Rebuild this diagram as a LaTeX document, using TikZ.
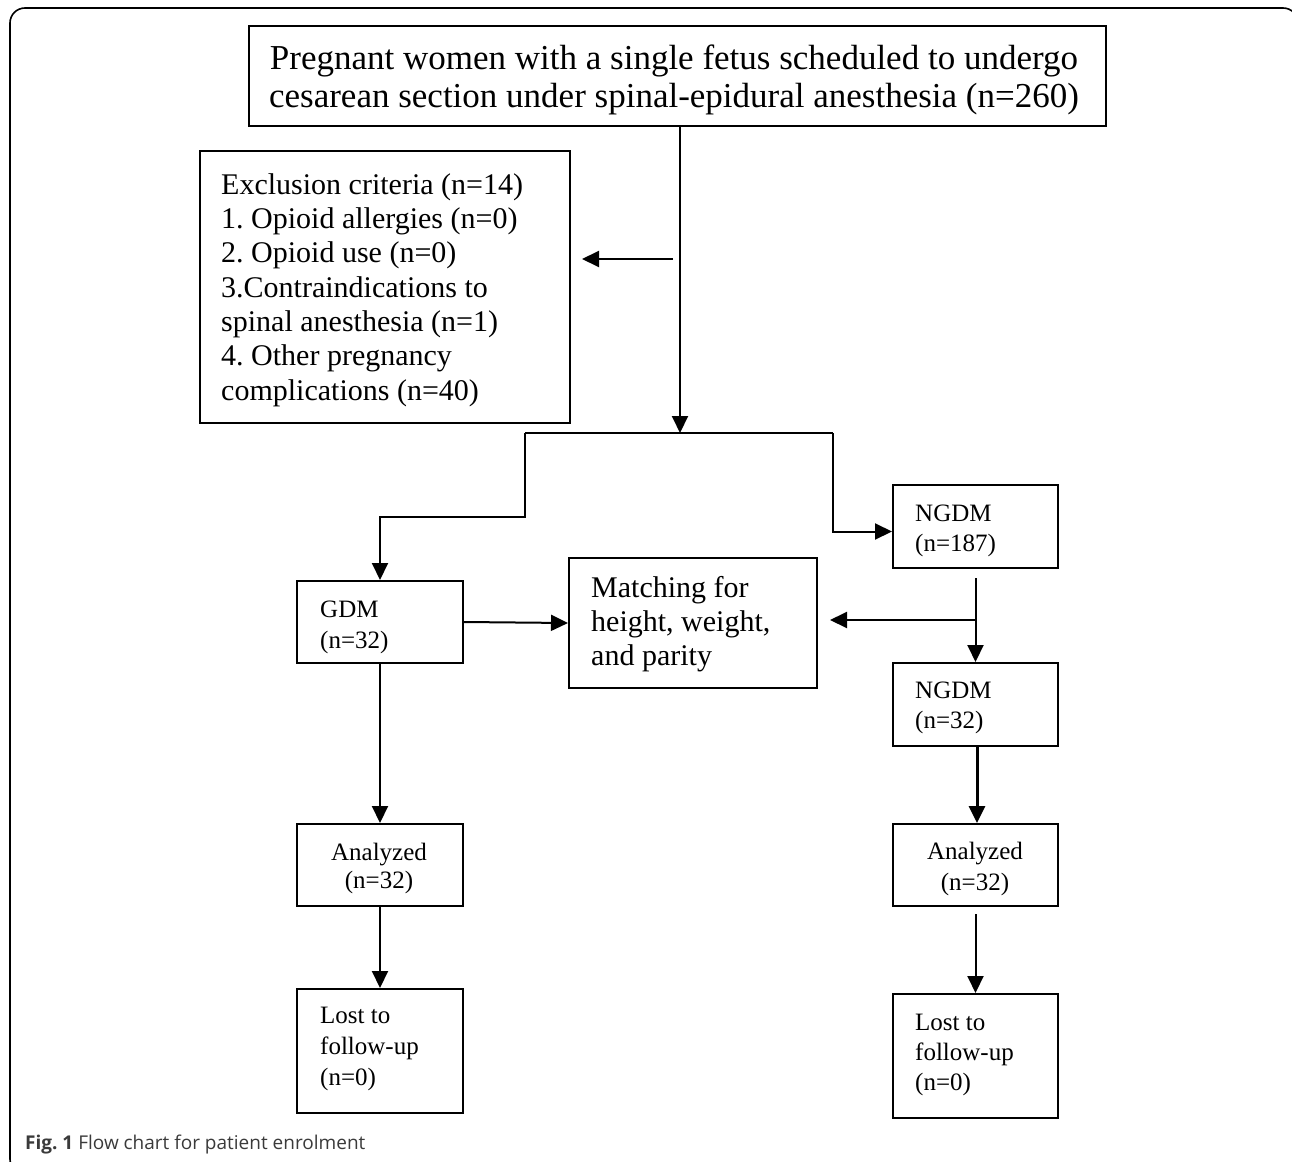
\documentclass[tikz,border=0pt]{standalone}
\usepackage{fontspec}
\setmainfont{Liberation Serif}
\newfontfamily\capfont{Open Sans}
\usetikzlibrary{arrows.meta}
\definecolor{capgray}{HTML}{3A3A3A}
\frenchspacing
\tikzset{
  box/.style={draw, line width=2pt, inner sep=0pt, anchor=north west},
  conn/.style={line width=2pt, -{Triangle[length=17pt,width=16pt]}},
  plain/.style={line width=2pt},
  txt/.style={anchor=base west, inner sep=0pt, align=left},
  ctxt/.style={anchor=base, inner sep=0pt, align=center},
}
\begin{document}
\begin{tikzpicture}[x=1pt,y=-1pt]
\useasboundingbox (0,0) rectangle (1292,1161);
\begin{scope}
\clip (0,0) rectangle (1292,1161);
\draw[line width=1.6pt, rounded corners=15pt] (10,8) rectangle (1298,1174);
\end{scope}

% boxes
\node[box, minimum width=857pt, minimum height=100pt] (top) at (248,25) {};
\node[box, minimum width=370pt, minimum height=272pt] (excl) at (199,150) {};
\node[box, minimum width=166pt, minimum height=82pt] (gdm) at (296,580) {};
\node[box, minimum width=165pt, minimum height=83pt] (ngdm1) at (892,484) {};
\node[box, minimum width=248pt, minimum height=130pt] (match) at (568,557) {};
\node[box, minimum width=165pt, minimum height=83pt] (ngdm2) at (892,662) {};
\node[box, minimum width=166pt, minimum height=82pt] (anL) at (296,823) {};
\node[box, minimum width=166pt, minimum height=124pt] (lostL) at (296,988) {};
\node[box, minimum width=165pt, minimum height=82pt] (anR) at (892,823) {};
\node[box, minimum width=165pt, minimum height=124pt] (lostR) at (892,993) {};

% texts (anchored at the baseline of their last line)
\node[ctxt, font=\fontsize{35}{38}\selectfont] (ttop) at (674,108)
  {Pregnant women with a single fetus scheduled to undergo\\cesarean section under spinal-epidural anesthesia (n=260)};
\node[txt, font=\fontsize{30}{34.3}\selectfont] (texcl) at (221,400)
  {Exclusion criteria (n=14)\\1. Opioid allergies (n=0)\\2. Opioid use (n=0)\\3.Contraindications to\\spinal anesthesia (n=1)\\4. Other pregnancy\\complications (n=40)};
\node[txt, font=\fontsize{25}{31}\selectfont] (tgdm) at (320,648) {GDM\\(n=32)};
\node[txt, font=\fontsize{25}{29.5}\selectfont] (tngdm1) at (915,551) {NGDM\\(n=187)};
\node[txt, font=\fontsize{30}{34}\selectfont] (tmatch) at (591,665) {Matching for\\height, weight,\\and parity};
\node[txt, font=\fontsize{25}{29.5}\selectfont] (tngdm2) at (915,728) {NGDM\\(n=32)};
\node[ctxt, font=\fontsize{25}{28}\selectfont] (tanL) at (379,888) {Analyzed\\(n=32)};
\node[txt, font=\fontsize{25}{31}\selectfont] (tlostL) at (320,1085) {Lost to\\follow-up\\(n=0)};
\node[ctxt, font=\fontsize{25}{31}\selectfont] (tanR) at (975,890) {Analyzed\\(n=32)};
\node[txt, font=\fontsize{25}{30}\selectfont] (tlostR) at (915,1090) {Lost to\\follow-up\\(n=0)};

% junctions
\coordinate (j1) at (680,433);
\coordinate (sl) at (525,433);
\coordinate (sr) at (833,433);
\coordinate (e1) at (673,259);
\coordinate (b1) at (974.5,620);

% connectors
\draw[conn] (top.south -| j1) -- (j1);
\draw[conn, shorten >=11pt] (e1) -- (excl.east |- e1);
\draw[plain] (sl) -- (sr);
\draw[conn] (sl) -- (525,517) -| (gdm.north);
\draw[conn] (sr) |- ([yshift=-5pt]ngdm1.west);
\draw[conn] (gdm.east) -- (match.west);
\draw[conn, shorten <=9pt] (ngdm1.south) -- (ngdm2.north);
\draw[conn, shorten >=12pt] (b1) -- (match.east |- b1);
\draw[conn, line width=3pt] ([xshift=1.5pt]ngdm2.south) -- ([xshift=1.5pt]anR.north);
\draw[conn, shorten <=7pt] (anR.south) -- (lostR.north);
\draw[conn] (gdm.south) -- (anL.north);
\draw[conn] (anL.south) -- (lostL.north);

% caption
\node[anchor=base west, inner sep=0pt, text=capgray, font=\capfont\fontsize{19}{22}\selectfont] (cap) at (25,1149)
  {\textbf{Fig. 1} Flow chart for patient enrolment};
\end{tikzpicture}
\end{document}
